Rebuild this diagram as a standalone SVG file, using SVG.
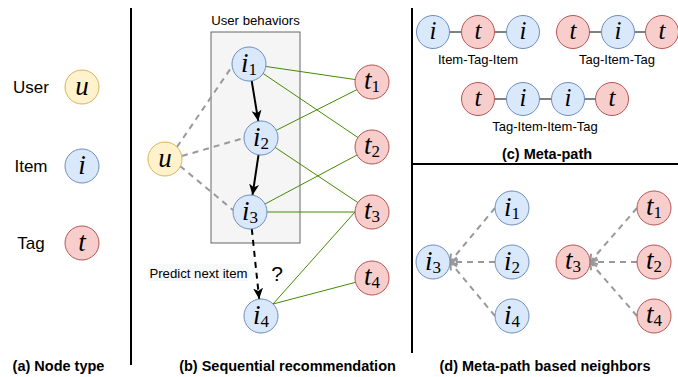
<svg xmlns="http://www.w3.org/2000/svg" width="678" height="377" viewBox="0 0 678 377">
<style>
.u{fill:#fff2cc;stroke:#d6b656;stroke-width:1}
.i{fill:#dae8fc;stroke:#6c8ebf;stroke-width:1}
.t{fill:#f8cecc;stroke:#b85450;stroke-width:1}
.m{font-family:"Liberation Serif","DejaVu Serif",serif;font-style:italic;font-size:27px;fill:#000;text-anchor:middle}
.mc{font-family:"Liberation Serif","DejaVu Serif",serif;font-style:italic;font-size:25px;fill:#000;text-anchor:middle}
.sub{font-style:normal;font-size:17px}
.lbl{font-family:"Liberation Sans",Arial,sans-serif;fill:#000}
.side{font-size:17px;text-anchor:middle}
.small{font-size:13px;text-anchor:middle}
.cap{font-weight:bold;font-size:14.5px;text-anchor:middle}
.sep{stroke:#000;stroke-width:2;fill:none}
.green{stroke:#448a00;stroke-width:1;fill:none}
.gdash{stroke:#999999;stroke-width:2;stroke-dasharray:6 5;fill:none}
.blk{stroke:#000;stroke-width:2;fill:none}
.mp{stroke:#000;stroke-width:1;fill:none}
</style>
<defs>
<marker id="arrB" markerUnits="userSpaceOnUse" markerWidth="12" markerHeight="12" viewBox="0 0 12 12" refX="11" refY="6" orient="auto">
<path d="M0,1 L11,6 L0,11 L3,6 Z" fill="#000"/>
</marker>
<marker id="arrG" markerUnits="userSpaceOnUse" markerWidth="12" markerHeight="12" viewBox="0 0 12 12" refX="10" refY="6" orient="auto">
<path d="M3,1.5 L10,6 L3,10.5" fill="none" stroke="#999999" stroke-width="2"/>
</marker>
</defs>

<g id="separators">
<line class="sep" x1="131" y1="8" x2="131" y2="365"/>
<line class="sep" x1="412" y1="8" x2="412" y2="353"/>
<line class="sep" x1="412" y1="164" x2="678" y2="164"/>
</g>

<!-- panel (a) -->
<g id="a-labels" class="lbl side">
<text x="31" y="93">User</text>
<text x="31" y="172">Item</text>
<text x="31" y="249">Tag</text>
</g>
<g id="a-user"><circle class="u" cx="82" cy="87" r="17"/><text class="m" x="82" y="95">u</text></g>
<g id="a-item"><circle class="i" cx="82" cy="166" r="17"/><text class="m" x="82" y="174">i</text></g>
<g id="a-tag"><circle class="t" cx="82" cy="243" r="17"/><text class="m" x="82" y="251">t</text></g>
<text class="lbl cap" x="58.5" y="371">(a) Node type</text>

<!-- panel (b) -->
<g id="behaviors">
<rect x="211" y="32" width="89" height="211" fill="#f5f5f5" stroke="#666666" stroke-width="1"/>
<text class="lbl" x="255.5" y="25" font-size="13.2" text-anchor="middle">User behaviors</text>
</g>

<g id="connectors">
<line class="green" x1="249" y1="64" x2="372" y2="82"/>
<line class="green" x1="249" y1="64" x2="372" y2="147"/>
<line class="green" x1="261" y1="138" x2="372" y2="82"/>
<line class="green" x1="261" y1="138" x2="372" y2="212"/>
<line class="green" x1="250" y1="212" x2="372" y2="147"/>
<line class="green" x1="250" y1="212" x2="372" y2="212"/>
<line class="green" x1="273" y1="304" x2="355" y2="212"/>
<line class="green" x1="273" y1="304" x2="372" y2="278"/>
<line class="gdash" x1="177" y1="147" x2="233" y2="65"/>
<line class="gdash" x1="182" y1="156" x2="244" y2="138"/>
<line class="gdash" x1="180" y1="166" x2="233" y2="210"/>
<line class="blk" x1="251.7" y1="80.8" x2="258.3" y2="121.2" marker-end="url(#arrB)"/>
<line class="blk" x1="258.5" y1="154.8" x2="252.5" y2="195.2" marker-end="url(#arrB)"/>
<line class="blk" x1="251.8" y1="229" x2="259.2" y2="299" stroke-dasharray="6 5" marker-end="url(#arrB)"/>
<line class="mp" x1="433" y1="32" x2="523" y2="32"/>
<line class="mp" x1="573" y1="32" x2="662" y2="32"/>
<line class="mp" x1="478" y1="99" x2="612" y2="99"/>
<line class="gdash" x1="495" y1="208" x2="450" y2="262" marker-end="url(#arrG)"/>
<line class="gdash" x1="495" y1="262" x2="450" y2="262" marker-end="url(#arrG)"/>
<line class="gdash" x1="495" y1="316" x2="450" y2="262" marker-end="url(#arrG)"/>
<line class="gdash" x1="637" y1="208" x2="590" y2="262" marker-end="url(#arrG)"/>
<line class="gdash" x1="637" y1="262" x2="590" y2="262" marker-end="url(#arrG)"/>
<line class="gdash" x1="637" y1="316" x2="590" y2="262" marker-end="url(#arrG)"/>
</g>

<g id="b-u"><circle class="u" cx="165" cy="159" r="17"/><text class="m" x="165" y="167">u</text></g>
<g id="b-i1"><circle class="i" cx="249" cy="64" r="17"/><text class="m" x="249" y="72">i<tspan class="sub" dy="3">1</tspan></text></g>
<g id="b-i2"><circle class="i" cx="261" cy="138" r="17"/><text class="m" x="261" y="146">i<tspan class="sub" dy="3">2</tspan></text></g>
<g id="b-i3"><circle class="i" cx="250" cy="212" r="17"/><text class="m" x="250" y="220">i<tspan class="sub" dy="3">3</tspan></text></g>
<g id="b-i4"><circle class="i" cx="261" cy="316" r="17"/><text class="m" x="261" y="324">i<tspan class="sub" dy="3">4</tspan></text></g>
<g id="b-t1"><circle class="t" cx="372" cy="82" r="17"/><text class="m" x="372" y="89">t<tspan class="sub" dy="3">1</tspan></text></g>
<g id="b-t2"><circle class="t" cx="372" cy="147" r="17"/><text class="m" x="372" y="154">t<tspan class="sub" dy="3">2</tspan></text></g>
<g id="b-t3"><circle class="t" cx="372" cy="212" r="17"/><text class="m" x="372" y="219">t<tspan class="sub" dy="3">3</tspan></text></g>
<g id="b-t4"><circle class="t" cx="372" cy="278" r="17"/><text class="m" x="372" y="285">t<tspan class="sub" dy="3">4</tspan></text></g>

<g id="predict">
<rect x="148" y="264" width="101" height="17" fill="#f8f9fa"/>
<text class="lbl" x="198.5" y="278" font-size="13.2" text-anchor="middle">Predict next item</text>
</g>
<text class="lbl" x="277" y="281" font-size="21" text-anchor="middle">?</text>
<text class="lbl cap" x="287.5" y="371">(b) Sequential recommendation</text>

<!-- panel (c) -->
<g id="c-iti-1"><circle class="i" cx="433" cy="32" r="16.5"/><text class="mc" x="433" y="39">i</text></g>
<g id="c-iti-2"><circle class="t" cx="478" cy="32" r="16.5"/><text class="mc" x="478" y="39">t</text></g>
<g id="c-iti-3"><circle class="i" cx="523" cy="32" r="16.5"/><text class="mc" x="523" y="39">i</text></g>
<text class="lbl small" x="478" y="64">Item-Tag-Item</text>
<g id="c-tit-1"><circle class="t" cx="573" cy="32" r="16.5"/><text class="mc" x="573" y="39">t</text></g>
<g id="c-tit-2"><circle class="i" cx="618" cy="32" r="16.5"/><text class="mc" x="618" y="39">i</text></g>
<g id="c-tit-3"><circle class="t" cx="662" cy="32" r="16.5"/><text class="mc" x="662" y="39">t</text></g>
<text class="lbl small" x="617" y="64">Tag-Item-Tag</text>
<g id="c-tiit-1"><circle class="t" cx="478" cy="99" r="16.5"/><text class="mc" x="478" y="106">t</text></g>
<g id="c-tiit-2"><circle class="i" cx="523" cy="99" r="16.5"/><text class="mc" x="523" y="106">i</text></g>
<g id="c-tiit-3"><circle class="i" cx="568" cy="99" r="16.5"/><text class="mc" x="568" y="106">i</text></g>
<g id="c-tiit-4"><circle class="t" cx="612" cy="99" r="16.5"/><text class="mc" x="612" y="106">t</text></g>
<text class="lbl small" x="545" y="131">Tag-Item-Item-Tag</text>
<text class="lbl cap" x="547" y="159">(c) Meta-path</text>

<!-- panel (d) -->
<g id="d-i3"><circle class="i" cx="433" cy="262" r="17"/><text class="m" x="433" y="270">i<tspan class="sub" dy="3">3</tspan></text></g>
<g id="d-i1"><circle class="i" cx="512" cy="208" r="17"/><text class="m" x="512" y="216">i<tspan class="sub" dy="3">1</tspan></text></g>
<g id="d-i2"><circle class="i" cx="512" cy="262" r="17"/><text class="m" x="512" y="270">i<tspan class="sub" dy="3">2</tspan></text></g>
<g id="d-i4"><circle class="i" cx="512" cy="316" r="17"/><text class="m" x="512" y="324">i<tspan class="sub" dy="3">4</tspan></text></g>
<g id="d-t3"><circle class="t" cx="573" cy="262" r="17"/><text class="m" x="573" y="269">t<tspan class="sub" dy="3">3</tspan></text></g>
<g id="d-t1"><circle class="t" cx="654" cy="208" r="17"/><text class="m" x="654" y="215">t<tspan class="sub" dy="3">1</tspan></text></g>
<g id="d-t2"><circle class="t" cx="654" cy="262" r="17"/><text class="m" x="654" y="269">t<tspan class="sub" dy="3">2</tspan></text></g>
<g id="d-t4"><circle class="t" cx="654" cy="316" r="17"/><text class="m" x="654" y="323">t<tspan class="sub" dy="3">4</tspan></text></g>
<text class="lbl cap" x="545" y="371">(d) Meta-path based neighbors</text>
</svg>
